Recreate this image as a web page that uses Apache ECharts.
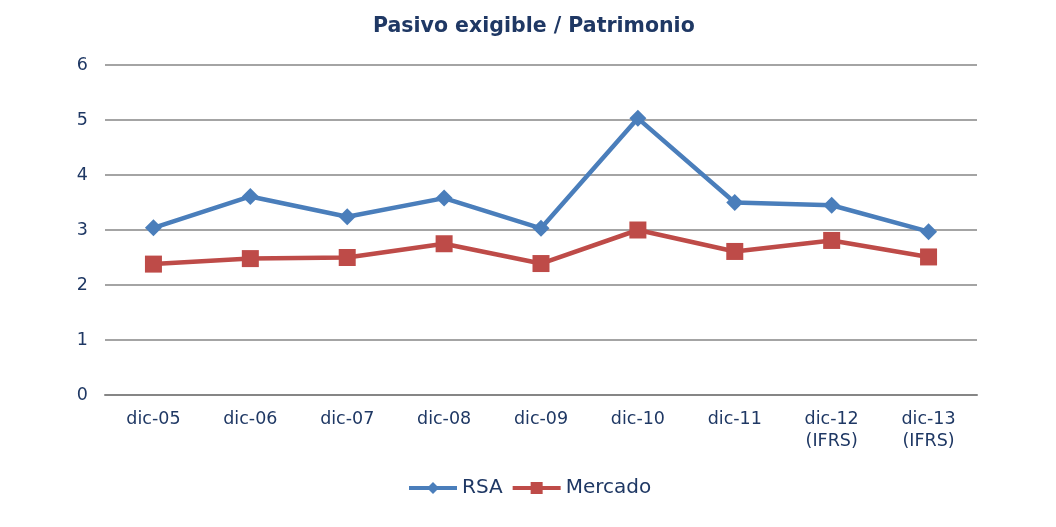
<!DOCTYPE html>
<html>
<head>
<meta charset="utf-8">
<script src="https://cdn.jsdelivr.net/npm/echarts@6/dist/echarts.min.js"></script>
<style>
html,body{margin:0;padding:0;background:#fff;}
#chart{width:1056px;height:527px;}
</style>
</head>
<body>
<div id="chart"></div>
<script>
const categories = ['dic-05','dic-06','dic-07','dic-08','dic-09','dic-10','dic-11','dic-12\n(IFRS)','dic-13\n(IFRS)'];
const rsa = [3.04, 3.61, 3.24, 3.58, 3.03, 5.03, 3.50, 3.45, 2.97];
const mercado = [2.38, 2.48, 2.50, 2.75, 2.39, 3.00, 2.61, 2.81, 2.51];
const yTicks = [0, 6, 1];

const textColor = '#1F3864';
const font = '"DejaVu Sans"';
const chart = echarts.init(document.getElementById('chart'), null, {renderer: 'canvas'});
chart.setOption({
  animation: false,
  backgroundColor: '#fff',
  title: {
    text: 'Pasivo exigible / Patrimonio',
    left: 368,
    top: 11,
    textStyle: {color: textColor, fontFamily: font, fontSize: 20.5, fontWeight: 'bold'}
  },
  legend: {
    top: 473,
    left: 402,
    itemWidth: 48,
    itemHeight: 15,
    itemGap: 8,
    textStyle: {color: textColor, fontFamily: font, fontSize: 20},
    lineStyle: {width: 4},
    data: ['RSA', 'Mercado']
  },
  grid: {left: 105, right: 79, top: 65, bottom: 132, containLabel: false},
  xAxis: {
    type: 'category',
    data: categories,
    boundaryGap: true,
    axisLine: {lineStyle: {color: '#868686', width: 2}},
    axisTick: {show: false},
    axisLabel: {color: textColor, fontFamily: font, fontSize: 17.5, margin: 13, lineHeight: 22}
  },
  yAxis: {
    type: 'value',
    min: yTicks[0], max: yTicks[1], interval: yTicks[2],
    axisLine: {show: false},
    axisTick: {show: false},
    splitLine: {lineStyle: {color: '#868686', width: 1.5}},
    axisLabel: {color: textColor, fontFamily: font, fontSize: 17.5, margin: 17}
  },
  series: [
    {
      name: 'RSA', type: 'line', data: rsa,
      symbol: 'diamond', symbolSize: 17,
      lineStyle: {color: '#4A7EBB', width: 4.5},
      itemStyle: {color: '#4A7EBB'}
    },
    {
      name: 'Mercado', type: 'line', data: mercado,
      symbol: 'rect', symbolSize: 17,
      lineStyle: {color: '#BE4B48', width: 4.5},
      itemStyle: {color: '#BE4B48'}
    }
  ]
});
</script>
</body>
</html>
